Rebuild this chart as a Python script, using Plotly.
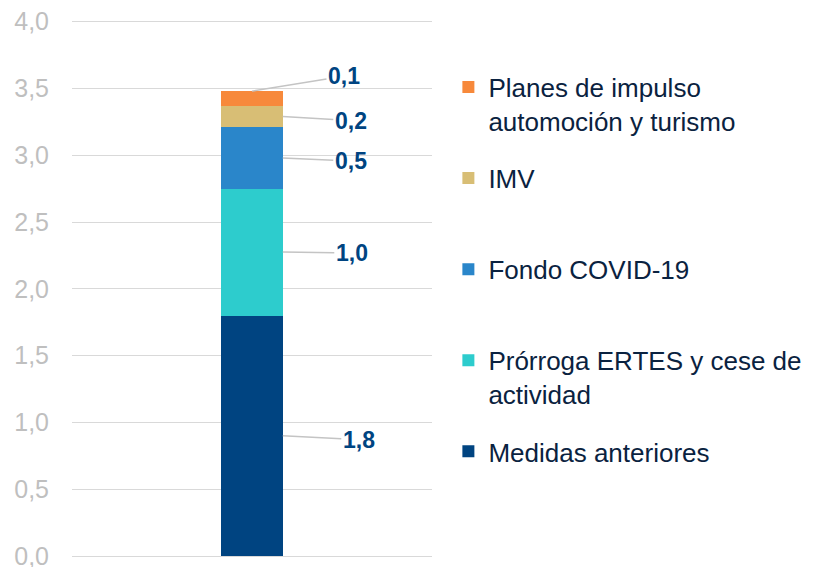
import plotly.graph_objects as go

# ---- data ----
series_names = [
    "Medidas anteriores",
    "Prórroga ERTES y cese de<br>actividad",
    "Fondo COVID-19",
    "IMV",
    "Planes de impulso<br>automoción y turismo",
]
series_values = [1.80, 0.95, 0.46, 0.16, 0.11]
y_tick_values = [0, 0.5, 1.0, 1.5, 2.0, 2.5, 3.0, 3.5, 4.0]

# ---- styles ----
colors = ["#004481", "#2DCCCD", "#2A86CA", "#D8BE75", "#F7893B"]
bar_width = 0.171
# pixel offsets of each value label from its leader anchor (layout only)
label_offsets = [(76, 4), (69, 1), (68, 3), (68, 4), (92, -15)]


def fmt(v):
    return f"{v + 1e-9:.1f}".replace(".", ",")


def legend_label(name):
    # pad single-line entries to two lines so every legend item has equal height
    return name if "<br>" in name else name + "<br>\u00a0"


n = len(series_values)
fig = go.Figure()
for i, (name, val, col) in enumerate(zip(series_names, series_values, colors)):
    fig.add_trace(go.Bar(
        x=[0], y=[val], name=legend_label(name), width=bar_width,
        marker=dict(color=col, line=dict(width=0)),
        legendgroup=f"g{i}", legendrank=(n - i) * 100, hoverinfo="skip",
    ))

# value labels with leader lines
cum = 0.0
annotations = []
for i, (val, (ax, ay)) in enumerate(zip(series_values, label_offsets)):
    if i == n - 1:
        hx, hy = 0, cum + val
    else:
        hx, hy = bar_width / 2, cum + val / 2
    annotations.append(dict(
        x=hx, y=hy, xref="x", yref="y", text=f"<b>{fmt(val)}</b>",
        showarrow=True, arrowhead=0, arrowwidth=1.5, arrowcolor="#C4C4C4",
        ax=ax, ay=ay, standoff=0,
        font=dict(family="Liberation Sans, Arial", size=23, color="#004481"),
    ))
    cum += val

# page body has an 8px default margin, so the figure is 8px smaller
fig.update_layout(
    width=805, height=559,
    barmode="stack",
    separators=",.",
    plot_bgcolor="white", paper_bgcolor="white",
    margin=dict(l=64, r=381, t=10.8, b=11.3, autoexpand=False),
    font=dict(family="Liberation Sans, Arial"),
    showlegend=True,
    legend=dict(
        x=1.0455, xanchor="left", y=0.917, yanchor="top",
        traceorder="grouped", tracegroupgap=20.5,
        valign="top",
        font=dict(family="Liberation Sans, Arial", size=26, color="#0A2240"),
        bgcolor="rgba(0,0,0,0)",
    ),
    xaxis=dict(range=[-0.5, 0.5], showticklabels=False, showgrid=False,
               zeroline=False, showline=False, fixedrange=True, automargin=False),
    yaxis=dict(range=[0, 4.02], tickvals=y_tick_values, tickformat=".1f",
               showgrid=True, gridcolor="#D9D9D9", gridwidth=1,
               zeroline=True, zerolinecolor="#D9D9D9", zerolinewidth=1,
               showline=False, ticks="", ticklabelstandoff=22, automargin=False,
               ticklabeloverflow="allow",
               tickfont=dict(family="Liberation Sans, Arial", size=25, color="#BFBFBF"),
               fixedrange=True),
    annotations=annotations,
)

fig.write_html("out.html", config={"displayModeBar": False})
